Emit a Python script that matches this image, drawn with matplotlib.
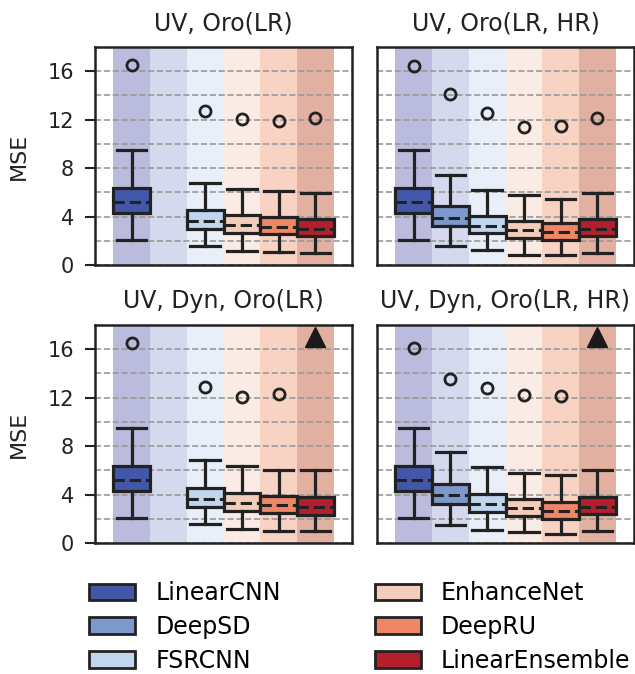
import matplotlib
matplotlib.use("Agg")
import matplotlib.pyplot as plt
from matplotlib.patches import Patch

models = ["LinearCNN", "DeepSD", "FSRCNN", "EnhanceNet", "DeepRU", "LinearEnsemble"]
titles = ["UV, Oro(LR)", "UV, Oro(LR, HR)", "UV, Dyn, Oro(LR)", "UV, Dyn, Oro(LR, HR)"]

box_colors = ["#4357a8", "#7d99cc", "#c1d5ee", "#f4ccba", "#ee8668", "#b41e2d"]
band_colors = ["#bbbbdd", "#d4d9ed", "#e8eff8", "#faebe4", "#f8d3c4", "#e2b0a0"]

# per panel, per model: [whislo, q1, med, q3, whishi]; None = not available
stats_uv_oro_lr = [
    [2.06, 4.32, 5.18, 6.39, 9.52],
    None,
    [1.53, 2.97, 3.66, 4.52, 6.76],
    [1.14, 2.66, 3.30, 4.13, 6.28],
    [1.06, 2.55, 3.16, 3.96, 6.12],
    [0.98, 2.36, 3.00, 3.80, 5.95],
]
fliers_uv_oro_lr = [16.48, None, 12.75, 12.06, 11.90, 12.17]

stats_uv_oro_lrhr = [
    [2.06, 4.32, 5.18, 6.39, 9.52],
    [1.53, 3.19, 3.91, 4.90, 7.47],
    [1.23, 2.64, 3.24, 4.07, 6.23],
    [0.84, 2.25, 2.86, 3.63, 5.81],
    [0.79, 2.08, 2.69, 3.47, 5.48],
    [0.98, 2.36, 3.00, 3.80, 5.95],
]
fliers_uv_oro_lrhr = [16.43, 14.08, 12.56, 11.43, 11.48, 12.17]

stats_uv_dyn_oro_lr = [
    [2.06, 4.30, 5.19, 6.38, 9.51],
    None,
    [1.53, 2.97, 3.64, 4.52, 6.85],
    [1.14, 2.64, 3.28, 4.11, 6.32],
    [1.03, 2.50, 3.14, 3.91, 6.02],
    [0.98, 2.34, 2.95, 3.80, 6.05],
]
fliers_uv_dyn_oro_lr = [16.49, None, 12.88, 12.05, 12.33, None]

stats_uv_dyn_oro_lrhr = [
    [2.06, 4.30, 5.19, 6.38, 9.51],
    [1.48, 3.19, 3.94, 4.88, 7.52],
    [1.09, 2.59, 3.25, 4.08, 6.30],
    [0.87, 2.25, 2.86, 3.64, 5.80],
    [0.71, 2.00, 2.64, 3.39, 5.58],
    [0.98, 2.36, 2.97, 3.83, 6.05],
]
fliers_uv_dyn_oro_lrhr = [16.10, 13.58, 12.77, 12.19, 12.14, None]

# off-scale outlier indicator (triangle) per panel: model index, value
offscale = [None, None, (5, 17.0), (5, 17.0)]

panels_stats = [stats_uv_oro_lr, stats_uv_oro_lrhr, stats_uv_dyn_oro_lr, stats_uv_dyn_oro_lrhr]
panels_fliers = [fliers_uv_oro_lr, fliers_uv_oro_lrhr, fliers_uv_dyn_oro_lr, fliers_uv_dyn_oro_lrhr]

W, H = 635, 674
fig = plt.figure(figsize=(W / 100, H / 100), dpi=100)

ax_w, ax_h = 257 / W, 218 / H
lefts = [95 / W, 377 / W]
bottoms = [1 - 265 / H, 1 - 543 / H]

dark = "#222222"
for p in range(4):
    r, c = divmod(p, 2)
    ax = fig.add_axes([lefts[c], bottoms[r], ax_w, ax_h])
    for i in range(6):
        ax.axvspan(i - 0.5, i + 0.5, color=band_colors[i], lw=0, zorder=0)
    bxstats, pos, cols = [], [], []
    for i, s in enumerate(panels_stats[p]):
        if s is None:
            continue
        fl = panels_fliers[p][i]
        bxstats.append(dict(whislo=s[0], q1=s[1], med=s[2], q3=s[3], whishi=s[4],
                            fliers=[fl] if fl is not None else [], label=models[i]))
        pos.append(i)
        cols.append(box_colors[i])
    res = ax.bxp(bxstats, positions=pos, widths=1.0, patch_artist=True,
                 boxprops=dict(edgecolor=dark, linewidth=2.3),
                 whiskerprops=dict(color=dark, linewidth=2.3),
                 capprops=dict(color=dark, linewidth=2.3),
                 medianprops=dict(color=dark, linewidth=2.2, linestyle="--"),
                 flierprops=dict(marker="o", markerfacecolor="none", markeredgecolor=dark,
                                 markersize=8, markeredgewidth=2),
                 capwidths=0.8, zorder=3)
    for b, col in zip(res["boxes"], cols):
        b.set_facecolor(col)
    if offscale[p] is not None:
        mi, v = offscale[p]
        ax.plot([mi], [v], marker="^", color="#1a1a1a", markersize=15, zorder=4, ls="none")
    ax.set_xlim(-1, 6)
    ax.set_ylim(0, 18)
    ax.set_yticks([0, 4, 8, 12, 16])
    ax.set_yticks([2, 6, 10, 14], minor=True)
    ax.set_xticks([])
    ax.grid(True, which="both", axis="y", color="#999999", linestyle="--", linewidth=1.2, zorder=1)
    ax.set_axisbelow(True)
    ax.tick_params(axis="y", which="minor", length=0)
    ax.tick_params(axis="y", which="major", length=7, width=1.5, color=dark, labelsize=15,
                   colors="#222222", pad=8)
    for sp in ax.spines.values():
        sp.set_linewidth(1.8)
        sp.set_color(dark)
    if c == 1:
        ax.tick_params(axis="y", which="major", length=0, labelleft=False)
    else:
        ax.set_ylabel("MSE", fontsize=16, color="#222222")
        ax.yaxis.set_label_coords(-0.258, 0.5)
    ax.set_title(titles[p], fontsize=17, color="#222222", pad=12)

handles = [Patch(facecolor=box_colors[i], edgecolor=dark, linewidth=2, label=models[i]) for i in range(6)]
fig.legend(handles=handles, loc="upper left", bbox_to_anchor=(68 / W, 1 - 560 / H), ncol=2,
           frameon=False, fontsize=17, handlelength=1.95, handleheight=0.72,
           columnspacing=3.98, labelspacing=0.42, handletextpad=0.85)

fig.savefig("out.png", dpi=100)
